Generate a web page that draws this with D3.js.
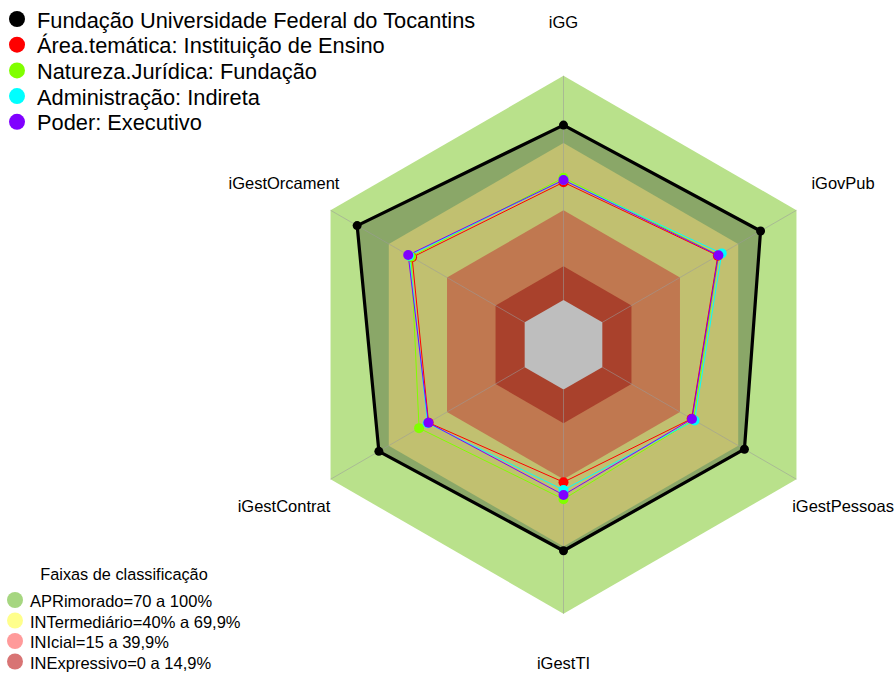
<!DOCTYPE html>
<html><head><meta charset="utf-8">
<script src="https://cdn.jsdelivr.net/npm/d3@7"></script>
<style>body{margin:0;background:#fff}svg{display:block;font-family:"Liberation Sans",Arial,sans-serif}</style>
</head><body><svg id="c" width="896" height="674"></svg>
<script>
const axes = ["iGG","iGovPub","iGestPessoas","iGestTI","iGestContrat","iGestOrcament"];
const seriesNames = ["Fundação Universidade Federal do Tocantins","Área.temática: Instituição de Ensino","Natureza.Jurídica: Fundação","Administração: Indireta","Poder: Executivo"];
const seriesColors = ["#000000","#FF0000","#80FF00","#00FFFF","#8000FF"];
const valsFundacao = [78, 81.5, 73.2, 71.9, 75.1, 86.3];
const valsArea     = [52.5, 59.5, 46.0, 41.3, 49.5, 58.0];
const valsNatureza = [54.5, 60.0, 47.0, 48.9, 54.4, 58.5];
const valsAdmin    = [53.5, 61.5, 47.5, 44.8, 50.0, 59.5];
const valsPoder    = [53.5, 59.8, 46.2, 47.0, 49.6, 60.0];
const bandLimits = [100, 70, 40, 15, 0];
const bandFill   = ["#B9E18B", "#C1C070", "#C07850", "#A9412C", "#BEBEBE"];
const legendBands = ["APRimorado=70 a 100%","INTermediário=40% a 69,9%","INIcial=15 a 39,9%","INExpressivo=0 a 14,9%"];
const legendBandColors = ["#A6D680","#FFFF8C","#FF9A9A","#D87474"];

const svg = d3.select("#c");
const cx = 563.5, cy = 344.75, R = 269;
const r = d3.scaleLinear().domain([0,100]).range([R/6, R]);
const ang = d3.scaleLinear().domain([0, axes.length]).range([-Math.PI/2, 1.5*Math.PI]);
const pt = (v,i) => [cx + r(v)*Math.cos(ang(i)), cy + r(v)*Math.sin(ang(i))];
const line = d3.line();
const poly = vals => line(vals.map((v,i)=>pt(v,i))) + "Z";
const ring = v => poly(axes.map(()=>v));

svg.append("path").attr("d", ring(bandLimits[0])).attr("fill", bandFill[0]);
svg.append("path").attr("d", poly(valsFundacao)).attr("fill", "#8AA768");
bandLimits.slice(1).forEach((b,k)=>{
  svg.append("path").attr("d", ring(b)).attr("fill", bandFill[k+1]);
});
axes.forEach((a,i)=>{
  const p0 = pt(0,i), p1 = pt(100,i);
  svg.append("line").attr("x1",p0[0]).attr("y1",p0[1]).attr("x2",p1[0]).attr("y2",p1[1])
    .attr("stroke","#9a9a9a").attr("stroke-opacity",0.55).attr("stroke-width",1);
});
axes.forEach((a,i)=>{
  const x = cx + 1.2*R*Math.cos(ang(i));
  let y = cy + 1.2*R*Math.sin(ang(i));
  if (i===3) y = Math.min(y, 663);
  svg.append("text").attr("x",x).attr("y",y).attr("text-anchor","middle").attr("dominant-baseline","central")
    .attr("font-size",16.5).text(a);
});
const allVals = [valsFundacao, valsArea, valsNatureza, valsAdmin, valsPoder];
allVals.forEach((vals,s)=>{
  svg.append("path").attr("d", poly(vals)).attr("fill","none").attr("stroke", seriesColors[s])
    .attr("stroke-width", s===0?3.2:1).attr("stroke-linejoin","round");
});
allVals.forEach((vals,s)=>{
  vals.forEach((v,i)=>{
    const p = pt(v,i);
    svg.append("circle").attr("cx",p[0]).attr("cy",p[1]).attr("r", s===0?4.5:5).attr("fill", seriesColors[s]);
  });
});
seriesNames.forEach((n,k)=>{
  const y = 19 + k*25.7;
  svg.append("circle").attr("cx",17).attr("cy",y).attr("r",8).attr("fill",seriesColors[k]);
  svg.append("text").attr("x",37).attr("y",y+1).attr("dominant-baseline","central").attr("font-size",21.8).text(n);
});
svg.append("text").attr("x",124).attr("y",574).attr("text-anchor","middle").attr("dominant-baseline","central")
  .attr("font-size",16.3).text("Faixas de classificação");
legendBands.forEach((n,k)=>{
  const y = 600 + k*20.5;
  svg.append("circle").attr("cx",15).attr("cy",y).attr("r",8).attr("fill",legendBandColors[k]);
  svg.append("text").attr("x",30).attr("y",y+1).attr("dominant-baseline","central").attr("font-size",16.5).text(n);
});
</script></body></html>
